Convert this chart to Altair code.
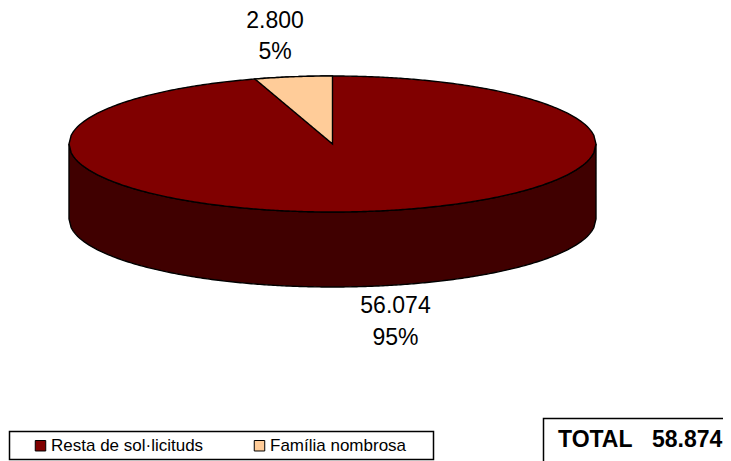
import math
import altair as alt
import pandas as pd

categories = ["Resta de sol·licituds", "Família nombrosa"]
values = [56074, 2800]
value_labels = ["56.074", "2.800"]
pct_labels = ["95%", "5%"]
total_parts = ["TOTAL", "58.874"]
colors = ["#800000", "#FFCC99"]
wall_color = "#400000"

CX, CY, A, B, DEPTH = 332.5, 144, 263.5, 68, 75
FONT = "Liberation Sans"
W, H = 715, 453

x_scale = alt.Scale(domain=[8, 8 + W], range=[0, W], nice=False, zero=False)
y_scale = alt.Scale(domain=[8 + H, 8], range=[H, 0], nice=False, zero=False)
X = alt.X("x:Q", scale=x_scale, axis=None)
Y = alt.Y("y:Q", scale=y_scale, axis=None, stack=None)
Y2 = alt.Y2("y2:Q")

N = 240
xs = [CX - A + 2 * A * i / N for i in range(N + 1)]
half = [B * math.sqrt(max(0, 1 - ((x - CX) / A) ** 2)) for x in xs]

wall = pd.DataFrame({"x": xs, "y": [CY + h for h in half], "y2": [CY + h + DEPTH for h in half]})
top = pd.DataFrame({"x": xs, "y": [CY - h for h in half], "y2": [CY + h for h in half],
                    "serie": categories[0]})

ang = 2 * math.pi * values[1] / sum(values)
tip_x = CX - A * math.sin(ang)
tip_y = CY - B * math.cos(ang)
wx = [tip_x + (CX - tip_x) * i / 40 for i in range(41)]
wedge = pd.DataFrame({
    "x": wx,
    "y": [CY - B * math.sqrt(1 - ((x - CX) / A) ** 2) for x in wx],
    "y2": [tip_y + (CY - tip_y) * (x - tip_x) / (CX - tip_x) for x in wx],
    "serie": categories[1],
})

color = alt.Color("serie:N", scale=alt.Scale(domain=categories, range=colors),
    legend=alt.Legend(title=None, orient="none", legendX=24, legendY=429, direction="horizontal",
                      symbolType="square", symbolSize=110, symbolStrokeColor="black",
                      symbolStrokeWidth=1, symbolOpacity=1,
                      labelFont=FONT, labelFontSize=17, labelColor="black",
                      labelOffset=2, columnPadding=47, padding=0))

stroke = dict(stroke="black", strokeWidth=1.4, interpolate="linear")
wall_l = alt.Chart(wall).mark_area(color=wall_color, **stroke).encode(x=X, y=Y, y2=Y2)
top_l = alt.Chart(top).mark_area(**stroke).encode(x=X, y=Y, y2=Y2, color=color)
wedge_l = alt.Chart(wedge).mark_area(**stroke).encode(x=X, y=Y, y2=Y2, color=color)

labels = pd.DataFrame({
    "x": [395.5, 275, 395.5, 275],
    "y": [306, 21, 338, 52],
    "t": value_labels + pct_labels,
})
text_l = alt.Chart(labels).mark_text(font=FONT, fontSize=23, color="black", align="center",
                                     baseline="middle").encode(x=X, y=Y, text="t:N")

frames = pd.DataFrame({"x": [9.5, 543.5], "x2": [433.5, 760], "y": [431.5, 418.5], "y2": [459.5, 480]})
frame_l = alt.Chart(frames).mark_rect(fill="white", stroke="black", strokeWidth=1.5, clip=True).encode(
    x=X, x2="x2:Q", y=alt.Y("y:Q", scale=y_scale, axis=None), y2="y2:Q")

total_l = alt.Chart(pd.DataFrame({"x": [558, 652], "y": [440, 440], "t": total_parts})).mark_text(
    font=FONT, fontSize=23, fontWeight="bold", color="black", align="left", baseline="middle"
).encode(x=X, y=Y, text="t:N")

chart = alt.layer(frame_l, wall_l, top_l, wedge_l, text_l, total_l).properties(
    width=W, height=H, padding=0, autosize=alt.AutoSizeParams(type="none")
).configure_view(stroke=None)

chart.save("out.html", embed_options={"renderer": "svg", "actions": False})
